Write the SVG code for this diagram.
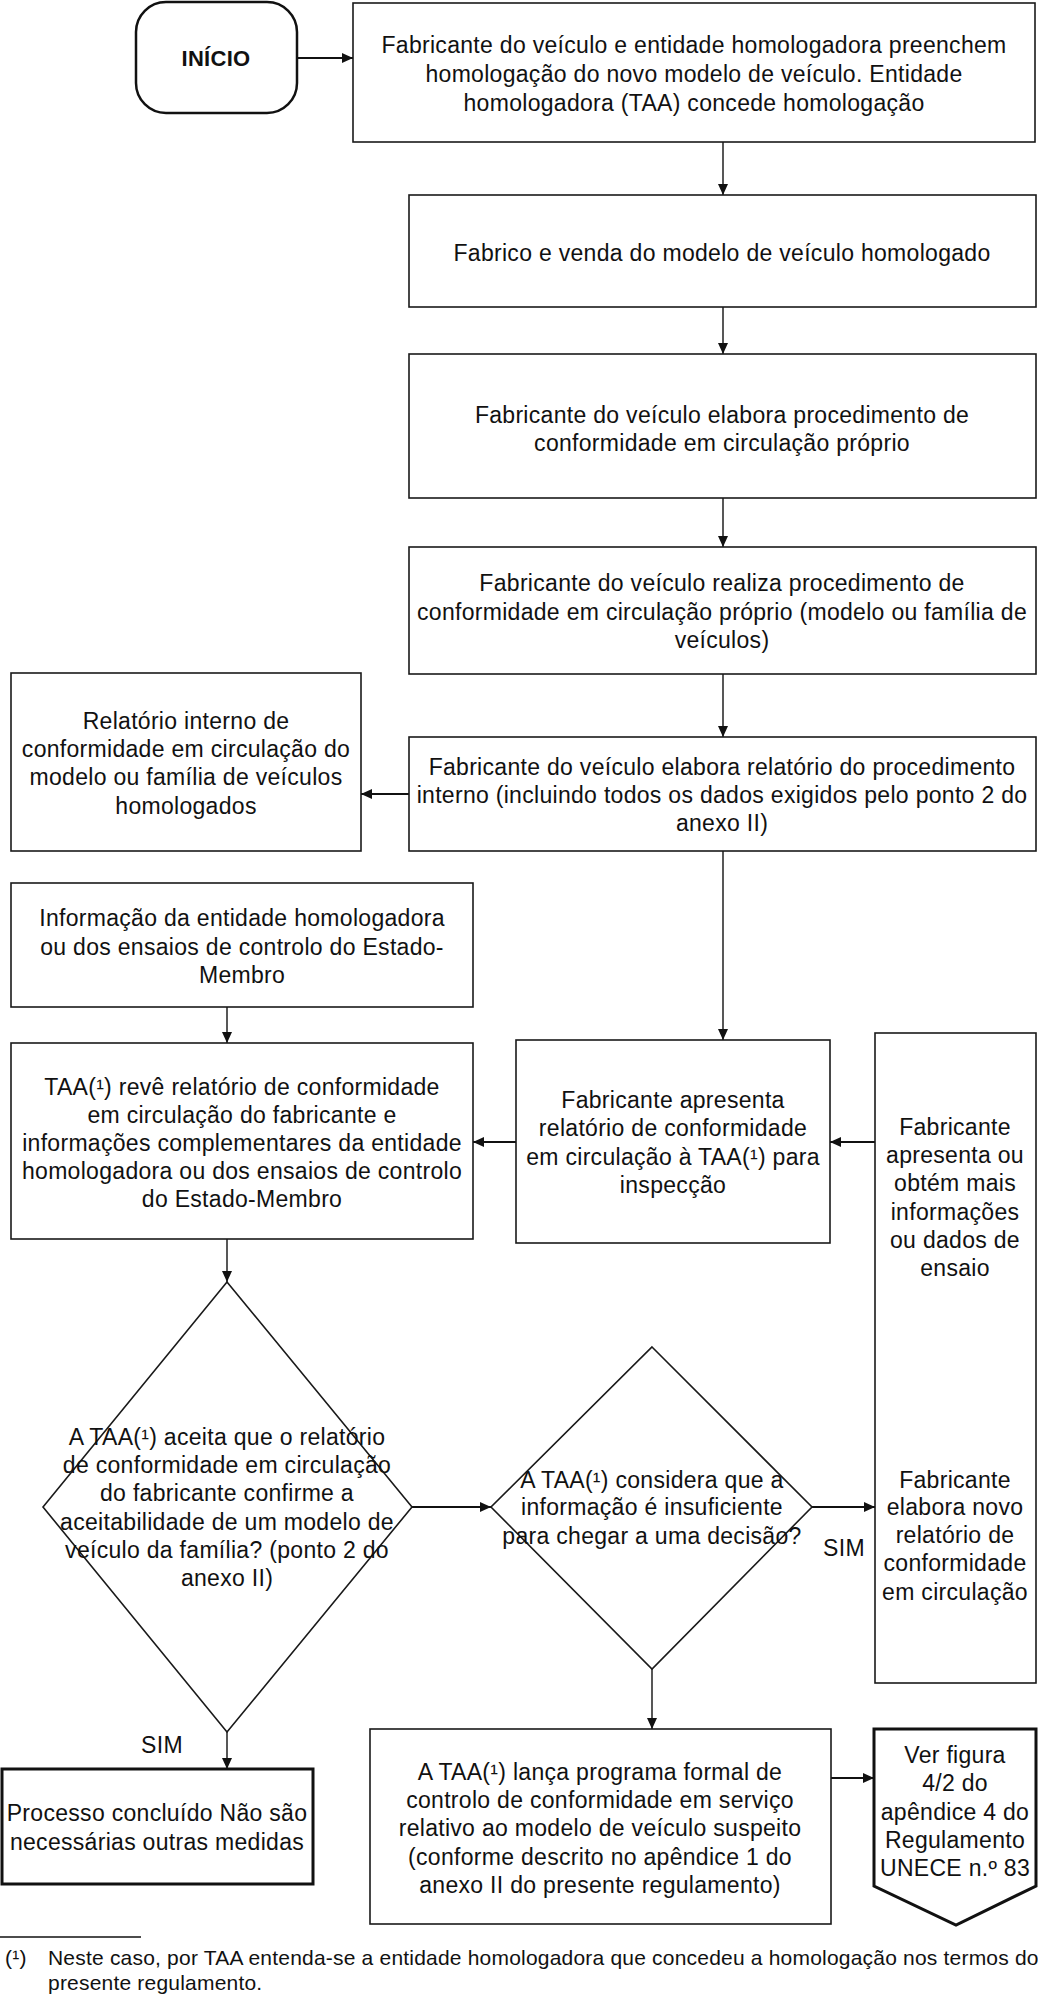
<svg xmlns="http://www.w3.org/2000/svg" width="1038" height="1994" viewBox="0 0 1038 1994">
<style>
  .bx{fill:#fff;stroke:#1a1a1a;stroke-width:1.6}
  .thick{fill:#fff;stroke:#111;stroke-width:3}
  .t{font-family:"Liberation Sans",Arial,sans-serif;font-size:23px;fill:#111;text-anchor:middle;letter-spacing:0.3px}
  .b{font-weight:bold;font-size:22px}
  .fn{font-family:"Liberation Sans",Arial,sans-serif;font-size:21px;fill:#111;letter-spacing:0.2px}
  .c{fill:none;stroke:#111;stroke-width:1.4}
  .c2{fill:none;stroke:#111;stroke-width:2.2}
</style>
<defs>
  <marker id="ah" markerUnits="userSpaceOnUse" markerWidth="12" markerHeight="10" refX="11" refY="5" orient="auto">
    <path d="M0,0 L11,5 L0,10 z" fill="#111"/>
  </marker>
</defs>

<g id="connectors">
  <line class="c2" x1="297" y1="58" x2="353" y2="58" marker-end="url(#ah)"/>
  <line class="c" x1="723" y1="142" x2="723" y2="195" marker-end="url(#ah)"/>
  <line class="c" x1="723" y1="307" x2="723" y2="354" marker-end="url(#ah)"/>
  <line class="c" x1="723" y1="498" x2="723" y2="547" marker-end="url(#ah)"/>
  <line class="c" x1="723" y1="674" x2="723" y2="737" marker-end="url(#ah)"/>
  <line class="c2" x1="409" y1="794" x2="361" y2="794" marker-end="url(#ah)"/>
  <line class="c" x1="723" y1="851" x2="723" y2="1040" marker-end="url(#ah)"/>
  <line class="c" x1="227" y1="1007" x2="227" y2="1043" marker-end="url(#ah)"/>
  <line class="c2" x1="516" y1="1142" x2="473" y2="1142" marker-end="url(#ah)"/>
  <line class="c2" x1="875" y1="1142" x2="830" y2="1142" marker-end="url(#ah)"/>
  <line class="c" x1="227" y1="1239" x2="227" y2="1282" marker-end="url(#ah)"/>
  <line class="c2" x1="412" y1="1507" x2="491" y2="1507" marker-end="url(#ah)"/>
  <line class="c2" x1="812" y1="1507" x2="875" y2="1507" marker-end="url(#ah)"/>
  <text class="t" x="844" y="1556">SIM</text>
  <line class="c" x1="227" y1="1732" x2="227" y2="1769" marker-end="url(#ah)"/>
  <text class="t" x="162" y="1753">SIM</text>
  <line class="c" x1="652" y1="1669" x2="652" y2="1729" marker-end="url(#ah)"/>
  <line class="c2" x1="831" y1="1778" x2="874" y2="1778" marker-end="url(#ah)"/>
</g>

<g id="inicio">
  <rect x="136" y="2" width="161" height="111" rx="30" ry="30" fill="#fff" stroke="#111" stroke-width="2.5"/>
  <text class="t b" x="216" y="66">INÍCIO</text>
</g>

<g id="n1">
  <rect class="bx" x="353" y="3" width="682" height="139"/>
  <text class="t" x="694" y="53">Fabricante do veículo e entidade homologadora preenchem</text>
  <text class="t" x="694" y="82">homologação do novo modelo de veículo. Entidade</text>
  <text class="t" x="694" y="111">homologadora (TAA) concede homologação</text>
</g>

<g id="n2">
  <rect class="bx" x="409" y="195" width="627" height="112"/>
  <text class="t" x="722" y="261">Fabrico e venda do modelo de veículo homologado</text>
</g>

<g id="n3">
  <rect class="bx" x="409" y="354" width="627" height="144"/>
  <text class="t" x="722" y="423">Fabricante do veículo elabora procedimento de</text>
  <text class="t" x="722" y="451">conformidade em circulação próprio</text>
</g>

<g id="n4">
  <rect class="bx" x="409" y="547" width="627" height="127"/>
  <text class="t" x="722" y="591">Fabricante do veículo realiza procedimento de</text>
  <text class="t" x="722" y="620">conformidade em circulação próprio (modelo ou família de</text>
  <text class="t" x="722" y="648">veículos)</text>
</g>

<g id="n5">
  <rect class="bx" x="409" y="737" width="627" height="114"/>
  <text class="t" x="722" y="775">Fabricante do veículo elabora relatório do procedimento</text>
  <text class="t" x="722" y="803">interno (incluindo todos os dados exigidos pelo ponto 2 do</text>
  <text class="t" x="722" y="831">anexo II)</text>
</g>

<g id="relatorio">
  <rect class="bx" x="11" y="673" width="350" height="178"/>
  <text class="t" x="186" y="729">Relatório interno de</text>
  <text class="t" x="186" y="757">conformidade em circulação do</text>
  <text class="t" x="186" y="785">modelo ou família de veículos</text>
  <text class="t" x="186" y="814">homologados</text>
</g>

<g id="informacao">
  <rect class="bx" x="11" y="883" width="462" height="124"/>
  <text class="t" x="242" y="926">Informação da entidade homologadora</text>
  <text class="t" x="242" y="955">ou dos ensaios de controlo do Estado-</text>
  <text class="t" x="242" y="983">Membro</text>
</g>

<g id="taa-reve">
  <rect class="bx" x="11" y="1043" width="462" height="196"/>
  <text class="t" x="242" y="1095">TAA(¹) revê relatório de conformidade</text>
  <text class="t" x="242" y="1123">em circulação do fabricante e</text>
  <text class="t" x="242" y="1151">informações complementares da entidade</text>
  <text class="t" x="242" y="1179">homologadora ou dos ensaios de controlo</text>
  <text class="t" x="242" y="1207">do Estado-Membro</text>
</g>

<g id="apresenta">
  <rect class="bx" x="516" y="1040" width="314" height="203"/>
  <text class="t" x="673" y="1108">Fabricante apresenta</text>
  <text class="t" x="673" y="1136">relatório de conformidade</text>
  <text class="t" x="673" y="1165">em circulação à TAA(¹) para</text>
  <text class="t" x="673" y="1193">inspecção</text>
</g>

<g id="tall">
  <rect class="bx" x="875" y="1033" width="161" height="650"/>
  <text class="t" x="955" y="1135">Fabricante</text>
  <text class="t" x="955" y="1163">apresenta ou</text>
  <text class="t" x="955" y="1191">obtém mais</text>
  <text class="t" x="955" y="1220">informações</text>
  <text class="t" x="955" y="1248">ou dados de</text>
  <text class="t" x="955" y="1276">ensaio</text>
  <text class="t" x="955" y="1488">Fabricante</text>
  <text class="t" x="955" y="1515">elabora novo</text>
  <text class="t" x="955" y="1543">relatório de</text>
  <text class="t" x="955" y="1571">conformidade</text>
  <text class="t" x="955" y="1600">em circulação</text>
</g>

<g id="diamond1">
  <polygon class="bx" points="227,1282 412,1507 227,1732 43,1507"/>
  <text class="t" x="227" y="1445">A TAA(¹) aceita que o relatório</text>
  <text class="t" x="227" y="1473">de conformidade em circulação</text>
  <text class="t" x="227" y="1501">do fabricante confirme a</text>
  <text class="t" x="227" y="1530">aceitabilidade de um modelo de</text>
  <text class="t" x="227" y="1558">veículo da família? (ponto 2 do</text>
  <text class="t" x="227" y="1586">anexo II)</text>
</g>

<g id="diamond2">
  <polygon class="bx" points="652,1347 812,1507 652,1669 491,1507"/>
  <text class="t" x="652" y="1488">A TAA(¹) considera que a</text>
  <text class="t" x="652" y="1515">informação é insuficiente</text>
  <text class="t" x="652" y="1544">para chegar a uma decisão?</text>
</g>

<g id="concluido">
  <rect class="thick" x="2" y="1769" width="311" height="115"/>
  <text class="t" x="157" y="1821">Processo concluído Não são</text>
  <text class="t" x="157" y="1850">necessárias outras medidas</text>
</g>

<g id="lanca">
  <rect class="bx" x="370" y="1729" width="461" height="195"/>
  <text class="t" x="600" y="1780">A TAA(¹) lança programa formal de</text>
  <text class="t" x="600" y="1808">controlo de conformidade em serviço</text>
  <text class="t" x="600" y="1836">relativo ao modelo de veículo suspeito</text>
  <text class="t" x="600" y="1865">(conforme descrito no apêndice 1 do</text>
  <text class="t" x="600" y="1893">anexo II do presente regulamento)</text>
</g>

<g id="offpage">
  <polygon class="thick" points="874,1729 1036,1729 1036,1886 956,1925 874,1886"/>
  <text class="t" x="955" y="1763">Ver figura</text>
  <text class="t" x="955" y="1791">4/2 do</text>
  <text class="t" x="955" y="1820">apêndice 4 do</text>
  <text class="t" x="955" y="1848">Regulamento</text>
  <text class="t" x="955" y="1876">UNECE n.º 83</text>
</g>

<g id="footnote">
  <line x1="0" y1="1937" x2="141" y2="1937" stroke="#111" stroke-width="1.5"/>
  <text class="fn" x="5" y="1965">(¹)</text>
  <text class="fn" x="48" y="1965">Neste caso, por TAA entenda-se a entidade homologadora que concedeu a homologação nos termos do</text>
  <text class="fn" x="48" y="1990">presente regulamento.</text>
</g>
</svg>
